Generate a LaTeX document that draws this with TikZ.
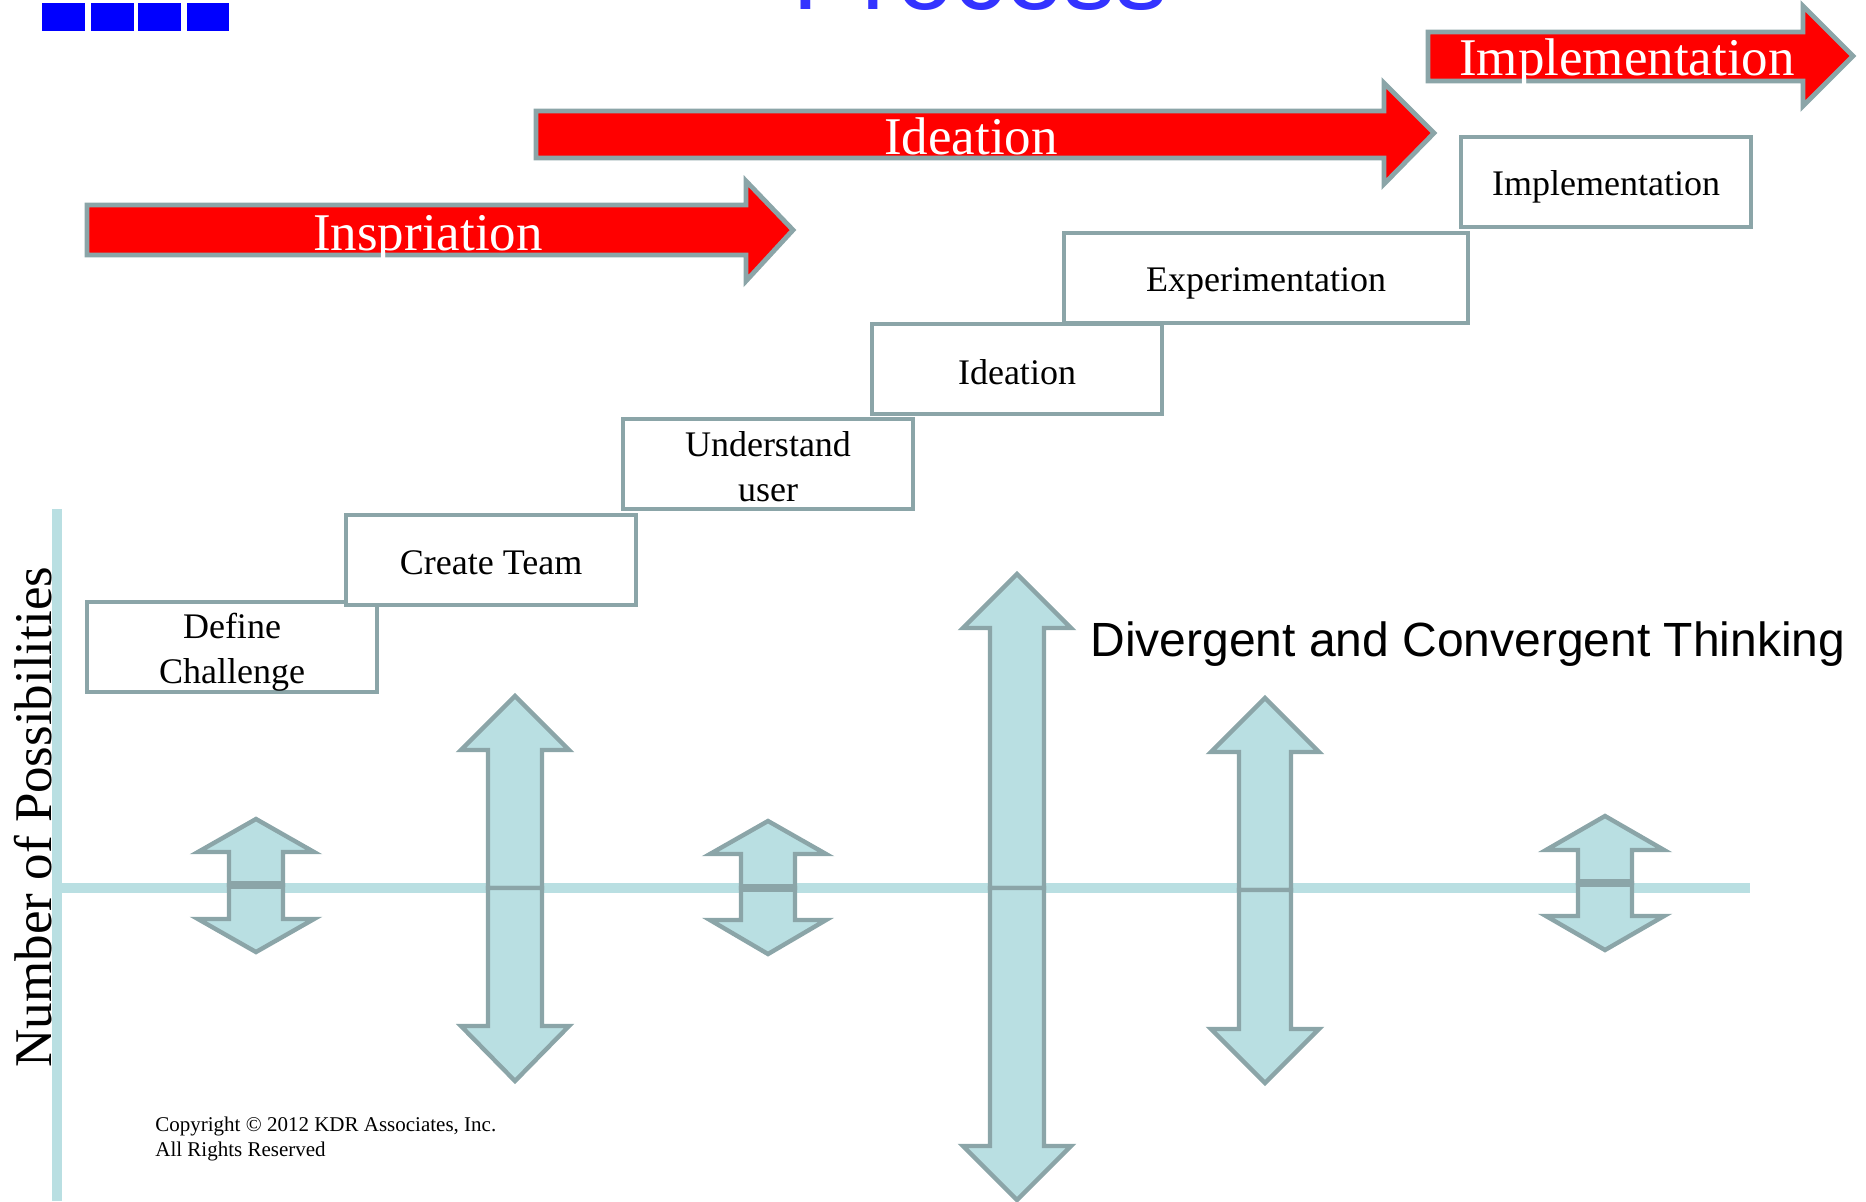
\documentclass[tikz,border=0pt]{standalone}
\usepackage{fontspec}
\setmainfont{Liberation Serif}
\newfontfamily\sansf{Liberation Sans}
\definecolor{arrowred}{RGB}{255,0,0}
\definecolor{edgegray}{RGB}{139,165,168}
\definecolor{paleteal}{RGB}{185,223,226}
\definecolor{titleblue}{RGB}{51,51,255}
\definecolor{squareblue}{RGB}{0,0,255}
% double-headed arrow: #1 centre x, #2 top tip, #3 upper head base, #4 seam,
% #5 lower head base, #6 bottom tip, #7 half head width, #8 half shaft width, #9 seam width
\newcommand\twowayarrow[9]{%
  \filldraw[flowarrow] ({#1-#8},#4) -- ({#1-#8},#3) -- ({#1-#7},#3) -- (#1,#2)
    -- ({#1+#7},#3) -- ({#1+#8},#3) -- ({#1+#8},#4) -- cycle;
  \filldraw[flowarrow] ({#1-#8},#4) -- ({#1-#8},#5) -- ({#1-#7},#5) -- (#1,#6)
    -- ({#1+#7},#5) -- ({#1+#8},#5) -- ({#1+#8},#4) -- cycle;
  \draw[edgegray, line width=#9] ({#1-#8},#4) -- ({#1+#8},#4);
}
% phase arrow: #1 left, #2 shaft top, #3 shaft bottom, #4 head base x,
% #5 head top, #6 head bottom, #7 tip x, #8 tip y
\newcommand\phasearrow[8]{%
  \filldraw[phase] (#1,#2) -- (#4,#2) -- (#4,#5) -- (#7,#8) -- (#4,#6)
    -- (#4,#3) -- (#1,#3) -- cycle;
}
\tikzset{
  flowarrow/.style={fill=paleteal, draw=edgegray, line width=2.2pt, line join=miter},
  phase/.style={fill=arrowred, draw=edgegray, line width=2.4pt, line join=miter},
  stepbox/.style={draw=edgegray, fill=white, line width=2pt, minimum width=145pt,
    minimum height=45pt, inner sep=0pt},
  steptext/.style={align=center, inner sep=0pt,
    font=\fontsize{18}{22.5}\selectfont},
  phasetext/.style={text=white, anchor=base, inner sep=0pt,
    font=\fontsize{26.5}{30}\selectfont},
  axisline/.style={paleteal, line width=4.6pt},
  bluesq/.style={fill=squareblue, draw=none}
}
\begin{document}
\begin{tikzpicture}[x=0.5pt, y=-0.5pt]
\useasboundingbox (0,0) rectangle (1866,1201);

% header marks and title
\fill[bluesq] (42,3) rectangle (85,31);
\fill[bluesq] (91,3) rectangle (134,31);
\fill[bluesq] (138,3) rectangle (181,31);
\fill[bluesq] (187,3) rectangle (229,31);
\node[anchor=base, inner sep=0pt, text=titleblue,
  font=\sansf\fontsize{52}{60}\selectfont] (title) at (980,9) {Process};

% phase arrows
\phasearrow{87}{205}{255}{746}{181}{281}{793}{230}
\node[phasetext] (inspiration) at (428,250) {Inspriation};
\phasearrow{536}{111}{158}{1384}{83}{184}{1434}{133}
\node[phasetext] (ideationphase) at (971,154) {Ideation};
\phasearrow{1428}{32}{81}{1803}{6}{106}{1853}{56}
\node[phasetext] (implphase) at (1627,75) {Implementation};

% process steps
\node[stepbox] (define) at (232,647) {};
\node[stepbox] (team) at (491,560) {};
\node[stepbox] (user) at (768,464) {};
\node[stepbox] (ideation) at (1017,369) {};
\node[stepbox, minimum width=202pt] (experiment) at (1266,278) {};
\node[stepbox] (implement) at (1606,182) {};
\node[steptext] (definetext) at ([yshift=-2.5pt]define.center) {Define\\Challenge};
\node[steptext] (teamtext) at ([yshift=-1.5pt]team.center) {Create Team};
\node[steptext] (usertext) at ([yshift=-1.5pt]user.center) {Understand\\user};
\node[steptext] (ideationtext) at ([yshift=-1.5pt]ideation.center) {Ideation};
\node[steptext] (experimenttext) at ([yshift=-2.5pt]experiment.center) {Experimentation};
\node[steptext] (implementtext) at ([yshift=-2.5pt]implement.center) {Implementation};

% axes
\draw[axisline] (57,509) -- (57,1201);
\draw[axisline] (60,888) -- (1750,888);
\node[rotate=90, inner sep=0pt, font=\fontsize{26.5}{30}\selectfont] (ylabel) at (33,817)
  {Number of Possibilities};

% divergent / convergent arrows
\twowayarrow{256}{819}{852}{885}{919}{952}{58}{27}{4pt}
\twowayarrow{515}{696}{750}{888}{1026}{1081}{54}{27}{1.5pt}
\twowayarrow{768}{821}{854}{888}{920}{954}{58}{27}{4pt}
\twowayarrow{1017}{574}{628}{888}{1146}{1200}{54}{27}{1.5pt}
\twowayarrow{1265}{698}{752}{890}{1029}{1083}{54}{26}{1.5pt}
\twowayarrow{1605}{816}{850}{883}{916}{950}{59}{27}{4pt}

\node[anchor=west, inner sep=0pt, font=\sansf\fontsize{24}{28}\selectfont] (thinking)
  at (1090,644) {Divergent and Convergent Thinking};

\node[anchor=north west, align=left, inner sep=0pt,
  font=\fontsize{10.5}{12.5}\selectfont] (copyright) at (155,1117)
  {Copyright \textcopyright{} 2012 KDR Associates, Inc.\\All Rights Reserved};
\end{tikzpicture}
\end{document}
